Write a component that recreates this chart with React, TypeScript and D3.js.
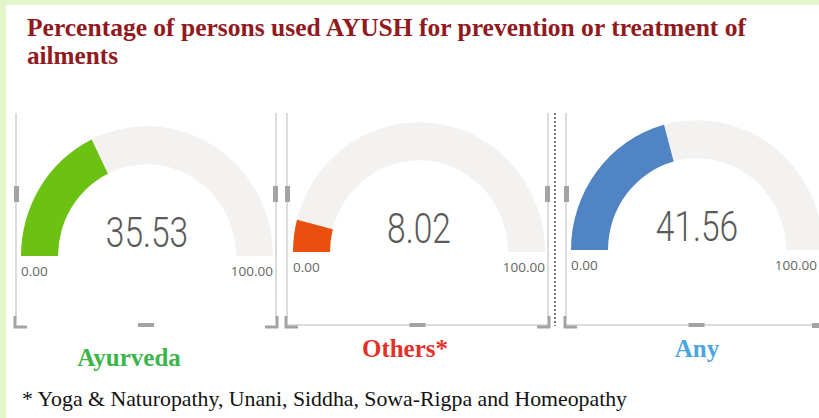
import React from "react";
import * as d3 from "d3";

// ---- data ----
const categories = ["Ayurveda", "Others*", "Any"];
const values = [35.53, 8.02, 41.56];
const valueDomain = [0, 100];
const minLabels = ["0.00", "0.00", "0.00"];
const maxLabels = ["100.00", "100.00", "100.00"];
const titleLines = [
  "Percentage of persons used AYUSH for prevention or treatment of",
  "ailments",
];
const footnote = "* Yoga & Naturopathy, Unani, Siddha, Sowa-Rigpa and Homeopathy";

// ---- styles / layout ----
const gaugeColors = ["#6cc213", "#e9500f", "#5084c4"];
const labelColors = ["#3ab54a", "#e2312b", "#4aa6de"];
const trackColor = "#f3f2f1";
const W = 819;
const H = 418;

const panels = [
  { cx: 147, cy: 256, left: 16, right: 276, bottomLine: false, labelX: 129, labelY: 366 },
  { cx: 419, cy: 252, left: 287, right: 548, bottomLine: true, labelX: 405, labelY: 357 },
  { cx: 697, cy: 250, left: 566, right: 817, bottomLine: true, labelX: 697, labelY: 357 },
];
const rOut = 126;
const rIn = 89;

export default function App() {
  const angle = d3.scaleLinear().domain(valueDomain).range([-Math.PI / 2, Math.PI / 2]);
  const arc = d3.arc<any>().innerRadius(rIn).outerRadius(rOut);
  const handle = "#a3a3a3";
  const border = "#d0d0d0";
  const serif = "'Liberation Serif', 'Times New Roman', Times, serif";

  return (
    <svg
      width={W}
      height={H}
      style={{ position: "absolute", left: 0, top: 0, background: "#ffffff" }}
    >
      <rect x={0} y={0} width={W} height={H} fill="#ffffff" />
      <rect x={0} y={0} width={W} height={5} fill="#e2f6c9" />
      <rect x={0} y={0} width={6} height={H} fill="#e2f6c9" />

      {titleLines.map((t, i) => (
        <text
          key={i}
          x={27}
          y={36 + i * 28}
          fill="#901a1e"
          fontFamily={serif}
          fontWeight="bold"
          fontSize={25.3}
          textLength={i === 0 ? 719 : 91}
          lengthAdjust="spacingAndGlyphs"
        >
          {t}
        </text>
      ))}

      {/* dotted separator */}
      <line x1={555} x2={555} y1={113} y2={326} stroke="#7a7a7a" strokeWidth={2} strokeDasharray="2,2" />

      {panels.map((p, i) => {
        const v = values[i];
        const top = 113;
        const bot = 326;
        return (
          <g key={i}>
            {/* panel frame */}
            <line x1={p.left} x2={p.left} y1={top} y2={bot - 8} stroke={border} strokeWidth={1.5} />
            {i < 2 && (
              <line x1={p.right} x2={p.right} y1={top} y2={bot - 8} stroke={border} strokeWidth={1.5} />
            )}
            {p.bottomLine && (
              <line x1={p.left} x2={i === 2 ? W : p.right} y1={bot - 1} y2={bot - 1} stroke={border} strokeWidth={1.5} />
            )}
            {/* side handles */}
            <rect x={p.left - 2} y={186} width={5} height={16} fill={handle} />
            {i < 2 && <rect x={p.right - 3} y={186} width={5} height={16} fill={handle} />}
            {/* bottom middle handle */}
            <rect x={(p.left + (i === 2 ? 827 : p.right)) / 2 - 8} y={bot - 3} width={16} height={4} fill={handle} />
            {/* corner handles */}
            <path
              d={`M${p.left - 1},${bot - 10} V${bot + 1} H${p.left + 11}`}
              fill="none"
              stroke={handle}
              strokeWidth={3}
            />
            {i < 2 ? (
              <path
                d={`M${p.right + 1},${bot - 10} V${bot + 1} H${p.right - 11}`}
                fill="none"
                stroke={handle}
                strokeWidth={3}
              />
            ) : (
              <rect x={812} y={bot - 3} width={7} height={5} fill={handle} />
            )}

            {/* gauge */}
            <g transform={`translate(${p.cx},${p.cy}) scale(1,1.03)`}>
              <path
                d={arc({ startAngle: angle(valueDomain[0]), endAngle: angle(valueDomain[1]) }) || ""}
                fill={trackColor}
              />
              <path
                d={arc({ startAngle: angle(valueDomain[0]), endAngle: angle(v) }) || ""}
                fill={gaugeColors[i]}
              />
            </g>
            <g transform={`translate(${p.cx},${p.cy - 9}) scale(0.78,1)`}>
              <text
                x={0}
                y={0}
                textAnchor="middle"
                fill="#5a5a5a"
                fontFamily="Roboto, 'Open Sans', sans-serif"
                fontWeight={300}
                fontSize={43}
              >
                {v.toFixed(2)}
              </text>
            </g>
            <text
              x={p.cx - rOut}
              y={p.cy + 20}
              fill="#666"
              fontFamily="'Open Sans', 'Noto Sans', sans-serif"
              fontSize={13.5}
            >
              {minLabels[i]}
            </text>
            <text
              x={i === 2 ? 817 : p.cx + rOut}
              y={p.cy + 20}
              textAnchor="end"
              fill="#666"
              fontFamily="'Open Sans', 'Noto Sans', sans-serif"
              fontSize={13.5}
            >
              {maxLabels[i]}
            </text>

            <text
              x={p.labelX}
              y={p.labelY}
              textAnchor="middle"
              fill={labelColors[i]}
              fontFamily={serif}
              fontWeight="bold"
              fontSize={25}
            >
              {categories[i]}
            </text>
          </g>
        );
      })}

      <text
        x={22}
        y={406}
        fill="#111"
        fontFamily={serif}
        fontSize={21.4}
        textLength={605}
        lengthAdjust="spacingAndGlyphs"
      >
        {footnote}
      </text>
    </svg>
  );
}
